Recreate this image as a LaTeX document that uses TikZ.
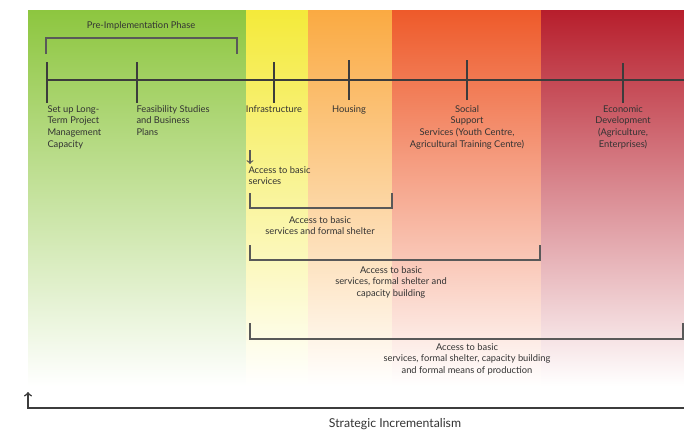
\documentclass[tikz,border=0pt]{standalone}
\usepackage{fontspec}
\setmainfont{Lato}
\definecolor{bandgreen}{RGB}{141,198,63}
\definecolor{bandyellow}{RGB}{244,234,58}
\definecolor{bandorange}{RGB}{250,170,66}
\definecolor{bandred}{RGB}{238,90,42}
\definecolor{banddark}{RGB}{183,30,44}
\definecolor{linegray}{RGB}{60,60,60}
\tikzset{every picture/.style={line width=0.75pt}}
\tikzset{
  tick/.style={draw=linegray, line width=1.3pt},
  brace/.style={draw=linegray!85, line width=0.9pt},
  lbl/.style={inner sep=0.75pt, font=\fontsize{7}{8.7}\selectfont, text=black!80},
}

\begin{document}
\begin{tikzpicture}[x=0.75pt,y=0.75pt,yscale=-1,xscale=1]
\useasboundingbox (0,0) rectangle (684,432);

%Shape: Rectangle [bands]
\fill[top color=bandgreen, bottom color=white] (28,10) rectangle (246,386);
\fill[top color=bandyellow, bottom color=white] (246,10) rectangle (308,386);
\fill[top color=bandorange, bottom color=white] (308,10) rectangle (392,386);
\fill[top color=bandred, bottom color=white] (392,10) rectangle (541,386);
\fill[top color=banddark, bottom color=white] (541,10) rectangle (684,386);

%Straight Lines [timeline]
\draw[tick] (46,80) -- (684,80) ;
\draw[tick] (47,62) -- (47,103) ;
\draw[tick] (137,62) -- (137,103) ;
\draw[tick] (274,62) -- (274,103) ;
\draw[tick] (349,60) -- (349,100) ;
\draw[tick] (467,60) -- (467,100) ;
\draw[tick] (623,63) -- (623,103) ;

%Shape: Bracket [pre-implementation]
\draw[brace] (46,54) -- (46,38) -- (237,38) -- (237,54) ;
%Shape: Bracket [shelter]
\draw[brace] (250,193) -- (250,208) -- (392,208) -- (392,193) ;
%Shape: Bracket [capacity]
\draw[brace] (250,245) -- (250,260) -- (540,260) -- (540,245) ;
%Shape: Bracket [production]
\draw[brace] (250,323) -- (250,339) -- (683,339) -- (683,323) ;

%Straight Lines [small arrow]
\draw[brace, ->] (250,150) -- (250,164) ;
%Straight Lines [strategic]
\draw[draw=linegray, line width=1.2pt, ->] (684,408) -- (28,408) -- (28,392) ;

% Text Node
\node[lbl] (prephase) at (141,26) {Pre-Implementation Phase};
% Text Node
\node[lbl, anchor=north west, align=left] (setup) at (46,104) {Set up Long-\\Term Project\\Management\\Capacity};
% Text Node
\node[lbl, anchor=north west, align=left] (feasib) at (135,104) {Feasibility Studies\\and Business\\Plans};
% Text Node
\node[lbl, anchor=north] (infra) at (274,104) {Infrastructure};
% Text Node
\node[lbl, anchor=north] (housing) at (349,104) {Housing};
% Text Node
\node[lbl, anchor=north, align=center] (social) at (467,104) {Social\\Support\\Services (Youth Centre,\\Agricultural Training Centre)};
% Text Node
\node[lbl, anchor=north, align=center] (econ) at (623,104) {Economic\\Development\\(Agriculture,\\Enterprises)};
% Text Node
\node[lbl, anchor=north west, align=left] (access1) at (247,165) {Access to basic\\services};
% Text Node
\node[lbl, anchor=north, align=center] (access2) at (320,215) {Access to basic\\services and formal shelter};
% Text Node
\node[lbl, anchor=north, align=center] (access3) at (391,265) {Access to basic\\services, formal shelter and\\capacity building};
% Text Node
\node[lbl, anchor=north, align=center] (access4) at (467,342) {Access to basic\\services, formal shelter, capacity building\\and formal means of production};
% Text Node
\node[lbl, font=\fontsize{9.2}{11}\selectfont] (strategic) at (395,424) {Strategic Incrementalism};

\end{tikzpicture}
\end{document}
